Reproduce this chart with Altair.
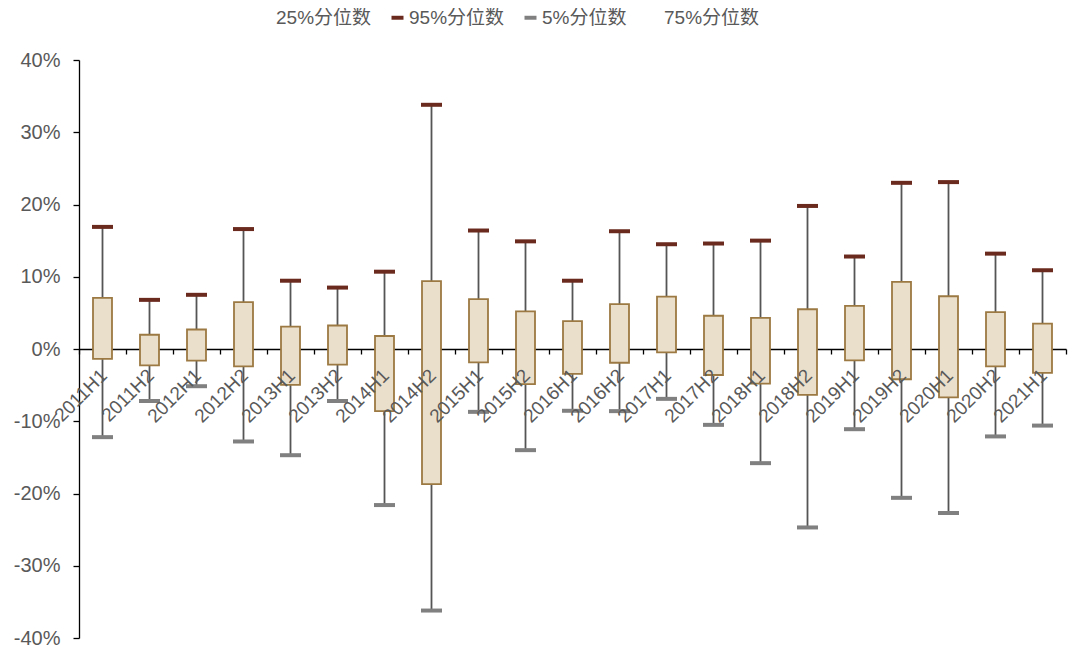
import altair as alt
import pandas as pd

cats = ["2011H1","2011H2","2012H1","2012H2","2013H1","2013H2","2014H1","2014H2",
        "2015H1","2015H2","2016H1","2016H2","2017H1","2017H2","2018H1","2018H2",
        "2019H1","2019H2","2020H1","2020H2","2021H1"]
p95 = [16.9, 6.8, 7.5, 16.6, 9.45, 8.5, 10.7, 33.8, 16.4, 14.9, 9.45, 16.3, 14.5,
       14.6, 15.0, 19.8, 12.8, 23.0, 23.1, 13.2, 10.9]
p75 = [7.07, 1.97, 2.7, 6.5, 3.1, 3.25, 1.8, 9.4, 6.9, 5.2, 3.85, 6.2, 7.25,
       4.6, 4.3, 5.5, 5.96, 9.3, 7.3, 5.1, 3.5]
p25 = [-1.38, -2.26, -1.6, -2.4, -4.96, -2.16, -8.6, -18.7, -1.84, -4.87, -3.45,
       -1.9, -0.47, -3.6, -4.78, -6.34, -1.57, -4.19, -6.7, -2.4, -3.3]
p5 = [-12.2, -7.2, -5.15, -12.8, -14.7, -7.2, -21.6, -36.2, -8.7, -14.0, -8.55,
      -8.6, -6.9, -10.5, -15.8, -24.7, -11.1, -20.6, -22.7, -12.1, -10.6]
series_names = ["25%分位数", "95%分位数", "5%分位数", "75%分位数"]
series_colors = ["#ffffff", "#6B2A1E", "#808080", "#ffffff"]
y_ticks = [-40, -30, -20, -10, 0, 10, 20, 30, 40]

W, H = 987, 578
FONT = "Liberation Sans, Arial, Noto Sans CJK SC"
GRAY = "#595959"

df = pd.DataFrame({"cat": cats, "p95": p95, "p75": p75, "p25": p25, "p5": p5})
ticks_df = pd.DataFrame({
    "cat": cats + cats,
    "series": [series_names[1]] * len(cats) + [series_names[2]] * len(cats),
    "value": p95 + p5,
})

x_enc = alt.X("cat:N", sort=cats,
              scale=alt.Scale(paddingInner=0, paddingOuter=0),
              axis=alt.Axis(title=None, labels=False, domainColor="#000000",
                            tickColor="#000000", tickSize=5, tickBand="extent",
                            offset=-H / 2, domainWidth=1.3, tickWidth=1.3,
                            grid=False))
y_scale = alt.Scale(domain=[-40, 40], nice=False)
y_axis = alt.Axis(title=None, values=y_ticks, labelExpr="datum.value + '%'",
                  labelFontSize=20, labelColor=GRAY, labelFont=FONT,
                  domainColor="#000000", tickColor="#000000", tickSize=6,
                  domainWidth=1.3, tickWidth=1.3, grid=False, labelPadding=13)

base = alt.Chart(df)

whisker = base.mark_rule(color="#555555", strokeWidth=1.8).encode(
    x=x_enc,
    y=alt.Y("p5:Q", scale=y_scale, axis=y_axis),
    y2="p95:Q",
)

box = base.mark_bar(size=19, fill="#EADFCB", stroke="#9C7942", strokeWidth=1.8).encode(
    x=alt.X("cat:N", sort=cats),
    y=alt.Y("p25:Q"),
    y2="p75:Q",
)

caps = alt.Chart(ticks_df).mark_tick(size=21, thickness=4, opacity=1).encode(
    x=alt.X("cat:N", sort=cats),
    y=alt.Y("value:Q"),
    color=alt.Color("series:N",
                    scale=alt.Scale(domain=series_names, range=series_colors),
                    legend=alt.Legend(title=None, orient="none", direction="horizontal",
                                      legendX=176, legendY=-52, padding=0,
                                      symbolType="M-1,-0.33H1V0.33H-1Z",
                                      symbolSize=144, symbolStrokeWidth=0,
                                      symbolOpacity=1,
                                      labelFontSize=19, labelColor=GRAY,
                                      labelFont=FONT, labelOffset=2,
                                      columnPadding=16)),
)

labels = base.mark_text(angle=315, align="right", baseline="middle", dx=-15.6, dy=17.7,
                        fontSize=19, color=GRAY, font=FONT).encode(
    x=alt.X("cat:N", sort=cats),
    y=alt.datum(0),
    text="cat:N",
)

chart = alt.layer(whisker, box, caps, labels).properties(
    width=W, height=H,
    autosize=alt.AutoSizeParams(type="none"),
    padding={"left": 71, "top": 52, "right": 5, "bottom": 10},
).configure(font=FONT).configure_view(strokeWidth=0, stroke=None)

chart.save("out.html", embed_options={"renderer": "svg", "actions": False})
